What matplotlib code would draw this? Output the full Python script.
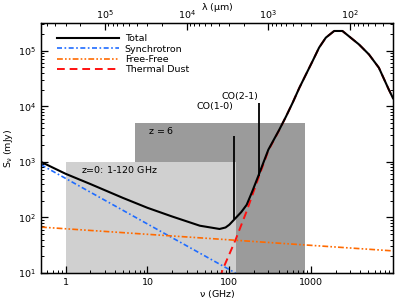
import numpy as np
import matplotlib
matplotlib.use("Agg")
import matplotlib.pyplot as plt
from matplotlib.ticker import LogLocator, NullFormatter, FixedLocator, FixedFormatter

# values (nu in GHz, S in mJy)
nu_total = [0.5, 1, 2, 5, 10, 20, 43.6, 76, 90, 100, 115, 140, 163, 190, 223, 300,
            408, 494, 594, 717, 864, 1040, 1250, 1510, 1910, 2410, 3040, 3840, 5080,
            6720, 8890, 10000]
S_total = [1000, 610, 400, 225, 149, 104, 71, 62, 66, 74, 92, 125, 169, 290, 530, 1660,
           3800, 6600, 11600, 21500, 37500, 65000, 114000, 172000, 227000, 227000,
           172000, 130000, 86000, 49500, 20000, 14000]

nu_sync = [0.5, 119]
S_sync = [890, 10]

nu_ff = [0.5, 10000]
S_ff = [67, 25]

nu_dust = [70, 82.5, 119, 163, 223, 300, 408, 494, 594, 717, 864, 1040, 1250, 1510,
           1910, 2410, 3040, 3840, 5080, 6720, 8890, 10000]
S_dust = [5, 11.3, 39.4, 130, 480, 1600, 3750, 6600, 11600, 21500, 37500, 65000,
          114000, 172000, 227000, 227000, 172000, 130000, 86000, 49500, 20000, 14000]

# CO lines
co_nu = [115.3, 230.5]
co_base = [92, 560]
co_top = [2950, 11600]
co_labels = ["CO(1-0)", "CO(2-1)"]
co_label_S = [10000, 15000]

# observing bands
band_z0 = (1, 120, 1000)
band_z6 = (7, 840, 5000)

c_um = 2.998e5  # lambda[um] = c_um / nu[GHz]

fs = 6.8
plt.rcParams['font.family'] = 'DejaVu Sans'
plt.rcParams['font.size'] = fs
plt.rcParams['mathtext.default'] = 'regular'

fig = plt.figure(figsize=(3.98, 3.03), dpi=100)
ax = fig.add_axes([41/398, 30/303, 352/398, 250/303])
ax.set_xscale('log')
ax.set_yscale('log')
ax.set_xlim(0.5, 1e4)
ax.set_ylim(10, 3.16e5)

ax.fill_between([band_z6[0], band_z6[1]], 10, band_z6[2], color='#9b9b9b', lw=0, zorder=0)
ax.fill_between([band_z0[0], band_z0[1]], 10, band_z0[2], color='#d0d0d0', lw=0, zorder=0.5)
ax.text(10.2, 3600, r"$z$ = 6", va='center', ha='left', fontsize=fs)
ax.text(1.56, 733, r"$z$=0: 1-120 GHz", va='center', ha='left', fontsize=fs)

ax.plot(nu_dust, S_dust, color='#ff1010', lw=1.4, dashes=(4, 2.5), zorder=2,
        label='Thermal Dust')
ax.plot(nu_sync, S_sync, color='#1f6cff', lw=1.2, dashes=(3, 1.5, 1, 1.5), zorder=2,
        label='Synchrotron')
ax.plot(nu_ff, S_ff, color='#ff6a00', lw=1.2, dashes=(3.5, 1.3, 1, 1.3, 1, 1.3), zorder=2,
        label='Free-Free')
ax.plot(nu_total, S_total, color='black', lw=1.5, zorder=3, label='Total')
ax.vlines(co_nu, co_base, co_top, color='black', lw=1.3, zorder=3)
for n, s, t in zip(co_nu, co_label_S, co_labels):
    ax.text(n * 0.98, s, t, ha='right', va='center', fontsize=fs)

h, l = ax.get_legend_handles_labels()
order = [3, 1, 2, 0]
ax.legend([h[i] for i in order], [l[i] for i in order], loc='upper left',
          bbox_to_anchor=(0.045, 0.955), frameon=False, handlelength=6.6,
          labelspacing=0.14, handletextpad=0.6, fontsize=fs, borderaxespad=0,
          borderpad=0)

ax.tick_params(which='both', direction='in', top=False, right=True, labelsize=fs)
ax.tick_params(which='major', length=5, width=0.9)
ax.tick_params(which='minor', length=2.5, width=0.7)
ax.xaxis.set_major_locator(FixedLocator([1, 10, 100, 1000]))
ax.xaxis.set_major_formatter(FixedFormatter(['1', '10', '100', '1000']))
ax.xaxis.set_minor_locator(LogLocator(base=10, subs=np.arange(2, 10), numticks=20))
ax.xaxis.set_minor_formatter(NullFormatter())
ax.yaxis.set_minor_locator(LogLocator(base=10, subs=np.arange(2, 10), numticks=20))
ax.yaxis.set_minor_formatter(NullFormatter())
ax.set_xlabel(r"$\nu$ (GHz)", fontsize=fs, labelpad=1)
ax.set_ylabel(r"$S_\nu$ (mJy)", fontsize=fs, labelpad=2)
for sp in ax.spines.values():
    sp.set_linewidth(1.0)

top = ax.twiny()
top.set_xscale('log')
top.set_xlim(c_um / 0.5, c_um / 1e4)
top.tick_params(which='both', direction='in', labelsize=fs, pad=1.5)
top.tick_params(which='major', length=5, width=0.9)
top.tick_params(which='minor', length=2.5, width=0.7)
top.xaxis.set_major_locator(FixedLocator([1e2, 1e3, 1e4, 1e5]))
top.xaxis.set_major_formatter(FixedFormatter([r'$10^2$', r'$10^3$', r'$10^4$', r'$10^5$']))
top.xaxis.set_minor_locator(LogLocator(base=10, subs=np.arange(2, 10), numticks=20))
top.xaxis.set_minor_formatter(NullFormatter())
top.set_xlabel(r"$\lambda$ ($\mu$m)", fontsize=fs, labelpad=-1)

fig.savefig("out.png", dpi=100)
